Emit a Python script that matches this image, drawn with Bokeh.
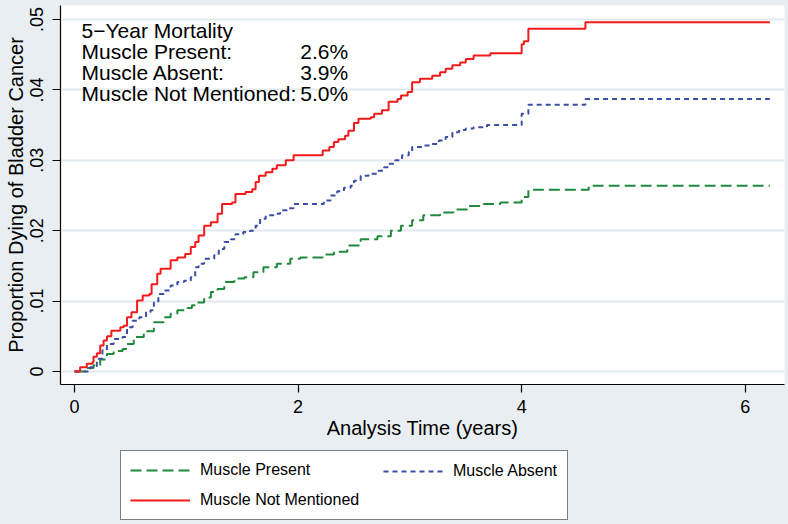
from bokeh.plotting import figure
from bokeh.layouts import column
from bokeh.models import (Range1d, FixedTicker, CustomJSTickFormatter, Legend,
                          LegendItem, Label)
from bokeh.embed import file_html
from bokeh.resources import INLINE

# ---------------- data ----------------
series_names = ["Muscle Present", "Muscle Absent", "Muscle Not Mentioned"]

present_t = [0.00, 0.11, 0.17, 0.23, 0.29, 0.35, 0.43, 0.47, 0.53, 0.62, 0.71, 0.80,
             0.86, 0.92, 1.01, 1.05, 1.10, 1.16, 1.22, 1.28, 1.34, 1.43, 1.52, 1.60,
             1.69, 1.81, 1.93, 2.02, 2.22, 2.32, 2.44, 2.56, 2.71, 2.83, 2.92, 3.02,
             3.12, 3.27, 3.39, 3.51, 3.66, 3.81, 4.00, 4.06, 4.60, 6.22]
present_y = [0.0, 0.0005, 0.0009, 0.0017, 0.0025, 0.0029, 0.0032, 0.0039, 0.0049, 0.0057,
             0.0070, 0.0077, 0.0082, 0.0087, 0.0090, 0.0094, 0.0098, 0.0105, 0.0113, 0.0117,
             0.0127, 0.0132, 0.0134, 0.0141, 0.0148, 0.0153, 0.0160, 0.0162, 0.0166, 0.0170,
             0.0179, 0.0188, 0.0192, 0.0200, 0.0207, 0.0215, 0.0222, 0.0226, 0.0230, 0.0235,
             0.0238, 0.0240, 0.0248, 0.0258, 0.0264, 0.0264]

absent_t = [0.00, 0.14, 0.20, 0.25, 0.29, 0.35, 0.43, 0.47, 0.52, 0.58, 0.64, 0.68,
            0.71, 0.75, 0.80, 0.86, 0.92, 0.98, 1.04, 1.08, 1.11, 1.16, 1.25, 1.29,
            1.34, 1.40, 1.44, 1.51, 1.57, 1.62, 1.66, 1.71, 1.78, 1.84, 1.90, 1.96,
            2.23, 2.29, 2.35, 2.41, 2.47, 2.50, 2.56, 2.63, 2.71, 2.77, 2.81, 2.87,
            2.93, 2.99, 3.02, 3.11, 3.18, 3.26, 3.32, 3.38, 3.44, 3.50, 3.57, 3.69,
            4.00, 4.06, 4.57, 6.22]
absent_y = [0.0, 0.0006, 0.0018, 0.0030, 0.0039, 0.0046, 0.0049, 0.0063, 0.0072, 0.0077,
            0.0084, 0.0087, 0.0098, 0.0110, 0.0115, 0.0122, 0.0127, 0.0129, 0.0134, 0.0148,
            0.0153, 0.0160, 0.0165, 0.0174, 0.0184, 0.0188, 0.0195, 0.0198, 0.0200, 0.0207,
            0.0217, 0.0222, 0.0224, 0.0229, 0.0232, 0.0238, 0.0243, 0.0250, 0.0256, 0.0261,
            0.0264, 0.0271, 0.0278, 0.0281, 0.0285, 0.0290, 0.0295, 0.0300, 0.0307, 0.0312,
            0.0319, 0.0321, 0.0323, 0.0328, 0.0333, 0.0340, 0.0343, 0.0345, 0.0347, 0.0350,
            0.0366, 0.0379, 0.0387, 0.0387]

notmentioned_t = [0.00, 0.05, 0.11, 0.16, 0.17, 0.20, 0.23, 0.26, 0.29, 0.33, 0.41, 0.44,
                  0.47, 0.51, 0.56, 0.61, 0.67, 0.69, 0.74, 0.77, 0.86, 0.92, 0.99, 1.04,
                  1.08, 1.11, 1.16, 1.22, 1.28, 1.32, 1.41, 1.44, 1.53, 1.59, 1.62, 1.65,
                  1.71, 1.77, 1.81, 1.89, 1.96, 2.22, 2.28, 2.32, 2.36, 2.42, 2.45, 2.50,
                  2.54, 2.65, 2.68, 2.75, 2.81, 2.89, 2.92, 2.98, 3.02, 3.09, 3.20, 3.27,
                  3.32, 3.38, 3.45, 3.50, 3.57, 3.72, 4.00, 4.02, 4.06, 4.57, 6.22]
notmentioned_y = [0.0, 0.0006, 0.0011, 0.0013, 0.0021, 0.0026, 0.0037, 0.0044, 0.0050, 0.0058,
                  0.0063, 0.0065, 0.0077, 0.0084, 0.0101, 0.0108, 0.0110, 0.0124, 0.0139, 0.0146,
                  0.0158, 0.0162, 0.0167, 0.0177, 0.0184, 0.0193, 0.0207, 0.0212, 0.0224, 0.0238,
                  0.0240, 0.0252, 0.0255, 0.0259, 0.0269, 0.0278, 0.0283, 0.0288, 0.0293, 0.0300,
                  0.0307, 0.0314, 0.0319, 0.0326, 0.0330, 0.0335, 0.0342, 0.0353, 0.0359, 0.0361,
                  0.0366, 0.0371, 0.0383, 0.0387, 0.0392, 0.0397, 0.0411, 0.0416, 0.0420, 0.0425,
                  0.0430, 0.0435, 0.0439, 0.0444, 0.0449, 0.0452, 0.0465, 0.0469, 0.0487, 0.0496,
                  0.0496]

x_ticks = [0, 2, 4, 6]
y_ticks = [0, 0.01, 0.02, 0.03, 0.04, 0.05]

note_title = "5\u2212Year Mortality"
note_labels = ["Muscle Present:", "Muscle Absent:", "Muscle Not Mentioned:"]
note_values = ["2.6%", "3.9%", "5.0%"]

x_title = "Analysis Time (years)"
y_title = "Proportion Dying of Bladder Cancer"

# ---------------- styling ----------------
BG = "#e8eef1"
GRID = "#e3eaee"
FONT = "Liberation Sans"
STYLES = [dict(line_color="#1f8a3c", line_width=2, line_dash="11 5"),
          dict(line_color="#3a4ea6", line_width=2, line_dash="5 4"),
          dict(line_color="#f51a1a", line_width=2)]
SERIES = [(present_t, present_y), (absent_t, absent_y), (notmentioned_t, notmentioned_y)]

x_rng = (-0.1252, 6.351)

p = figure(width=788, height=448, output_backend="svg", toolbar_location=None,
           x_range=Range1d(*x_rng), y_range=Range1d(-0.00185, 0.05199),
           min_border_left=60, min_border_right=4, min_border_top=5,
           min_border_bottom=64, background_fill_color="white",
           border_fill_color=BG)
p.outline_line_color = None
p.xgrid.visible = False
p.ygrid.grid_line_color = GRID
p.ygrid.grid_line_width = 2

for ax in (p.xaxis[0], p.yaxis[0]):
    ax.axis_line_color = "black"
    ax.axis_line_width = 1.2
    ax.major_tick_line_color = "black"
    ax.major_tick_line_width = 1.2
    ax.major_tick_out = 8
    ax.major_tick_in = 0
    ax.minor_tick_line_color = None
    ax.major_label_text_font = FONT
    ax.major_label_text_font_size = "18px"
    ax.major_label_text_color = "black"
    ax.axis_label_text_font = FONT
    ax.axis_label_text_font_size = "20px"
    ax.axis_label_text_font_style = "normal"
    ax.axis_label_text_color = "black"

p.xaxis.ticker = FixedTicker(ticks=x_ticks)
p.xaxis.axis_label = x_title
p.xaxis.major_label_standoff = 7
p.xaxis.axis_label_standoff = 1

p.yaxis.ticker = FixedTicker(ticks=y_ticks)
p.yaxis.formatter = CustomJSTickFormatter(
    code="return tick == 0 ? '0' : tick.toFixed(2).replace(/^0/, '');")
p.yaxis.major_label_orientation = "parallel"
p.yaxis.axis_label = y_title
p.yaxis.major_label_standoff = 9
p.yaxis.axis_label_standoff = 1

for (t, y), st in zip(SERIES, STYLES):
    p.step(t, y, mode="after", **st)

# ---------------- annotation text ----------------
note_x = 0.063
value_x = 2.02
note_y = [0.0468, 0.0438, 0.0409, 0.0379]
p.add_layout(Label(x=note_x, y=note_y[0], text=note_title, text_font=FONT,
                   text_font_size="21px", text_color="black"))
for i, (lab, val) in enumerate(zip(note_labels, note_values)):
    p.add_layout(Label(x=note_x, y=note_y[i + 1], text=lab, text_font=FONT,
                       text_font_size="21px", text_color="black"))
    p.add_layout(Label(x=value_x, y=note_y[i + 1], text=val, text_font=FONT,
                       text_font_size="21px", text_color="black"))

# ---------------- legend strip (same series, out-of-view, used for keys) ----------------
lg = figure(width=788, height=76, output_backend="svg", toolbar_location=None,
            x_range=Range1d(*x_rng), y_range=Range1d(1.0, 2.0),
            x_axis_type=None, y_axis_type=None,
            min_border_left=0, min_border_right=0, min_border_top=0,
            min_border_bottom=0, background_fill_color=BG, border_fill_color=BG)
lg.outline_line_color = None
lg.grid.visible = False
keys = [lg.step(t, y, mode="after", **st) for (t, y), st in zip(SERIES, STYLES)]

common = dict(glyph_width=60, glyph_height=20, label_height=20, label_standoff=10,
              padding=9, spacing=10, margin=0, label_text_font=FONT,
              label_text_font_size="16px", label_text_color="black",
              orientation="vertical")
leg1 = Legend(items=[LegendItem(label=series_names[0], renderers=[keys[0]]),
                     LegendItem(label=series_names[2], renderers=[keys[2]])],
              location=(60, 4), label_width=358, border_line_color="black",
              border_line_width=1, background_fill_color="white",
              background_fill_alpha=1.0, **common)
leg2 = Legend(items=[LegendItem(label=series_names[1], renderers=[keys[1]])],
              location=(314, 34), border_line_alpha=0.0,
              background_fill_alpha=0.0, **common)
lg.add_layout(leg1, "center")
lg.add_layout(leg2, "center")

layout = column(p, lg, spacing=0, styles={"background-color": BG})
open("out.html", "w").write(file_html(layout, INLINE))
